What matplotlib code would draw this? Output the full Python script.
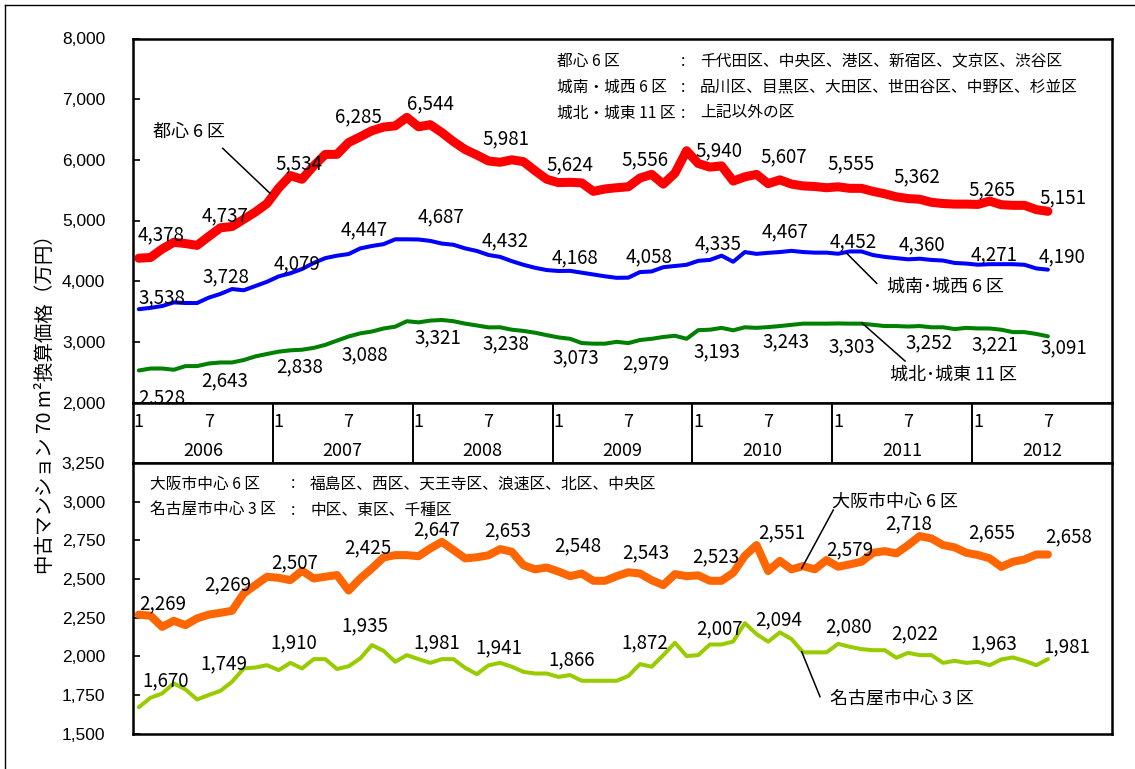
import numpy as np
import matplotlib
matplotlib.use("Agg")
import matplotlib.pyplot as plt
from matplotlib.lines import Line2D

plt.rcParams['font.family'] = ['Noto Sans CJK JP', 'DejaVu Sans']

# ---- data (monthly, Jan 2006 - Jul 2012) ----
years = [2006, 2007, 2008, 2009, 2010, 2011, 2012]
month_ticks = ["1", "7"]

tokyo_center = [4378, 4390, 4530, 4640, 4620, 4590, 4737, 4880, 4900, 5020, 5140, 5280,
                5534, 5740, 5680, 5900, 6090, 6090, 6285, 6380, 6480, 6540, 6560, 6700,
                6544, 6580, 6450, 6300, 6170, 6080, 5981, 5960, 6000, 5970, 5820, 5680,
                5624, 5630, 5620, 5480, 5520, 5540, 5556, 5700, 5760, 5600, 5780, 6150,
                5940, 5880, 5900, 5650, 5720, 5760, 5607, 5670, 5600, 5570, 5560, 5540,
                5555, 5530, 5530, 5480, 5440, 5390, 5362, 5350, 5300, 5280, 5270, 5270,
                5265, 5320, 5260, 5250, 5250, 5180, 5151]
tokyo_sw = [3538, 3560, 3590, 3650, 3640, 3640, 3728, 3790, 3870, 3850, 3920, 3990,
            4079, 4130, 4200, 4300, 4380, 4420, 4447, 4540, 4580, 4610, 4690, 4690,
            4687, 4664, 4620, 4600, 4540, 4498, 4432, 4400, 4330, 4270, 4220, 4183,
            4168, 4170, 4140, 4110, 4080, 4055, 4058, 4150, 4160, 4230, 4250, 4270,
            4335, 4350, 4420, 4320, 4480, 4450, 4467, 4480, 4500, 4480, 4470, 4470,
            4452, 4490, 4490, 4430, 4400, 4380, 4360, 4370, 4350, 4340, 4300, 4290,
            4271, 4280, 4280, 4280, 4270, 4210, 4190]
tokyo_ne = [2528, 2560, 2560, 2540, 2600, 2600, 2643, 2660, 2660, 2700, 2760, 2800,
            2838, 2860, 2870, 2900, 2950, 3020, 3088, 3140, 3170, 3220, 3250, 3340,
            3321, 3350, 3360, 3340, 3300, 3270, 3238, 3240, 3200, 3180, 3150, 3110,
            3073, 3050, 2980, 2970, 2970, 3000, 2979, 3030, 3050, 3080, 3100, 3050,
            3193, 3200, 3230, 3190, 3240, 3230, 3243, 3260, 3280, 3300, 3300, 3300,
            3303, 3300, 3300, 3280, 3260, 3260, 3252, 3260, 3240, 3240, 3210, 3230,
            3221, 3220, 3200, 3160, 3160, 3130, 3091]
osaka = [2269, 2262, 2190, 2229, 2201, 2245, 2269, 2281, 2294, 2406, 2460, 2514,
         2507, 2492, 2553, 2503, 2514, 2525, 2425, 2503, 2568, 2639, 2654, 2654,
         2647, 2697, 2740, 2687, 2633, 2640, 2653, 2693, 2676, 2589, 2562, 2574,
         2548, 2518, 2535, 2488, 2488, 2518, 2543, 2535, 2492, 2460, 2531, 2518,
         2523, 2488, 2488, 2540, 2650, 2719, 2551, 2617, 2562, 2583, 2562, 2622,
         2579, 2594, 2611, 2669, 2680, 2665, 2718, 2777, 2762, 2719, 2704, 2669,
         2655, 2633, 2578, 2611, 2626, 2658, 2658]
nagoya = [1670, 1731, 1759, 1824, 1785, 1720, 1749, 1776, 1835, 1921, 1927, 1942,
          1910, 1957, 1921, 1981, 1981, 1917, 1935, 1986, 2072, 2035, 1964, 2007,
          1981, 1957, 1981, 1981, 1925, 1884, 1941, 1957, 1932, 1899, 1888, 1888,
          1866, 1878, 1841, 1841, 1841, 1841, 1872, 1949, 1932, 2007, 2087, 2001,
          2007, 2076, 2076, 2095, 2214, 2143, 2094, 2154, 2111, 2025, 2025, 2025,
          2080, 2061, 2046, 2039, 2039, 1990, 2022, 2007, 2007, 1957, 1970, 1957,
          1963, 1942, 1979, 1992, 1970, 1942, 1981]

notes_top = [("都心 6 区", "千代田区、中央区、港区、新宿区、文京区、渋谷区"),
             ("城南・城西 6 区", "品川区、目黒区、大田区、世田谷区、中野区、杉並区"),
             ("城北・城東 11 区", "上記以外の区")]
notes_bottom = [("大阪市中心 6 区", "福島区、西区、天王寺区、浪速区、北区、中央区"),
                ("名古屋市中心 3 区", "中区、東区、千種区")]

# label offsets (pixels, right / down) for the Jan / Jul value labels
off_red = [(22, -23), (16, -21), (20, -24), (10, -26), (12, -23), (17, -22), (12, -18),
           (17, -27), (21, -13), (16, -27), (13, -23), (9, -22), (14, -15), (15, -14)]
off_blue = [(23, -11), (17, -21), (18, -13), (16, -24), (22, -23), (17, -14), (17, -13),
            (21, -21), (20, -17), (17, -21), (15, -12), (14, -15), (16, -10), (14, -13)]
off_green = [(23, 27), (16, 17), (21, 15), (16, 18), (19, 15), (17, 16), (17, 20),
             (17, 21), (19, 22), (18, 15), (14, 23), (21, 16), (17, 16), (16, 11)]
off_orange = [(24, -11), (19, -30), (16, -15), (19, -43), (18, -26), (19, -24), (19, -26),
              (17, -19), (18, -19), (14, -38), (12, -17), (1, -21), (14, -22), (21, -18)]
off_yg = [(27, -26), (15, -31), (15, -27), (16, -40), (18, -16), (10, -18), (13, -17),
          (16, -33), (21, -26), (11, -22), (10, -17), (7, -19), (16, -18), (19, -12)]

W, H = 1135, 769
fig = plt.figure(figsize=(W / 100, H / 100), dpi=100)


def fx(px):
    return px / W


def fy(py):
    return 1 - py / H


ax1 = fig.add_axes([fx(133), fy(402.5), fx(1112) - fx(133), fy(38.5) - fy(402.5)])
axb = fig.add_axes([fx(133), fy(463), fx(1112) - fx(133), fy(402.5) - fy(463)])
ax2 = fig.add_axes([fx(133), fy(733.5), fx(1112) - fx(133), fy(463) - fy(733.5)])

nmonths = len(years) * 12
x = np.arange(len(tokyo_center)) + 0.5
lab_idx = list(range(0, len(tokyo_center), 6))


def draw(ax, vals, color, lw, offs):
    ax.plot(x, vals, color=color, lw=lw, solid_capstyle='round', solid_joinstyle='round')
    for k, i in enumerate(lab_idx):
        dx, dy = offs[k]
        ax.annotate(f"{vals[i]:,}", (x[i], vals[i]), xytext=(dx * 0.72, -dy * 0.72),
                    textcoords='offset points', ha='center', va='center', fontsize=13.5)


draw(ax1, tokyo_center, '#FF0000', 6.5, off_red)
draw(ax1, tokyo_sw, '#0000FF', 2.9, off_blue)
draw(ax1, tokyo_ne, '#008000', 2.9, off_green)
draw(ax2, osaka, '#FF6600', 5.8, off_orange)
draw(ax2, nagoya, '#99CC00', 2.9, off_yg)

ax1.set_ylim(2000, 8000)
ax1.set_yticks(range(2000, 8001, 1000))
ax2.set_ylim(1500, 3250)
ax2.set_yticks(range(1500, 3251, 250))
for ax in (ax1, ax2):
    ax.set_xlim(0, nmonths)
    ax.set_xticks([])
    ax.set_yticklabels([f"{v:,}" for v in ax.get_yticks().astype(int)],
                       family='Liberation Sans', fontsize=12.5)
    ax.tick_params(axis='y', direction='in', length=5, width=1.2, pad=20)
    for s in ax.spines.values():
        s.set_linewidth(1.8)

# category band
axb.set_xlim(0, nmonths)
axb.set_ylim(0, 1)
axb.set_xticks([])
axb.set_yticks([])
for s in axb.spines.values():
    s.set_linewidth(1.8)
for k, yr in enumerate(years):
    if k > 0:
        axb.axvline(k * 12, color='black', lw=1.4)
    axb.text(k * 12 + 0.5, 0.68, month_ticks[0], ha='center', va='center', fontsize=13)
    axb.text(k * 12 + 6.5, 0.68, month_ticks[1], ha='center', va='center', fontsize=13)
    axb.text(k * 12 + 6, 0.2, str(yr), ha='center', va='center', fontsize=13)

# notes
for r, (a, b) in enumerate(notes_top):
    yy = fy(61 + r * 26)
    fig.text(fx(557), yy, a, ha='left', va='center', fontsize=11.3)
    fig.text(fx(683), yy, ":", ha='center', va='center', fontsize=11.3)
    fig.text(fx(700), yy, b, ha='left', va='center', fontsize=11.3)
for r, (a, b) in enumerate(notes_bottom):
    yy = fy(484 + r * 26.5)
    fig.text(fx(150), yy, a, ha='left', va='center', fontsize=11.3)
    fig.text(fx(293), yy, ":", ha='center', va='center', fontsize=11.3)
    fig.text(fx(310), yy, b, ha='left', va='center', fontsize=11.3)

# callouts
callouts = [("都心 6 区", 153, 131.7, (222.7, 148.3), (270, 193.3)),
            ("城南･城西 6 区", 886.7, 286.7, (846.7, 253.3), (876.7, 283.3)),
            ("城北･城東 11 区", 890, 375, (862, 323), (905, 361)),
            ("大阪市中心 6 区", 831.7, 501.7, (833.3, 510), (801.7, 568.3)),
            ("名古屋市中心 3 区", 830, 698.3, (801.7, 651.7), (820, 696.7))]
for t, tx, ty, p0, p1 in callouts:
    fig.text(fx(tx), fy(ty), t, ha='left', va='center', fontsize=13)
    fig.add_artist(Line2D([fx(p0[0]), fx(p1[0])], [fy(p0[1]), fy(p1[1])],
                          color='black', lw=1.1))

fig.text(fx(45), fy(400), "中古マンション 70 m²換算価格（万円）", rotation=90,
         ha='center', va='center', fontsize=14)

# outer frame (left / top)
fig.add_artist(Line2D([fx(5), fx(5)], [fy(5), fy(769)], color='black', lw=1))
fig.add_artist(Line2D([fx(5), fx(1135)], [fy(5), fy(5)], color='black', lw=1))

fig.savefig("out.png", dpi=100)
